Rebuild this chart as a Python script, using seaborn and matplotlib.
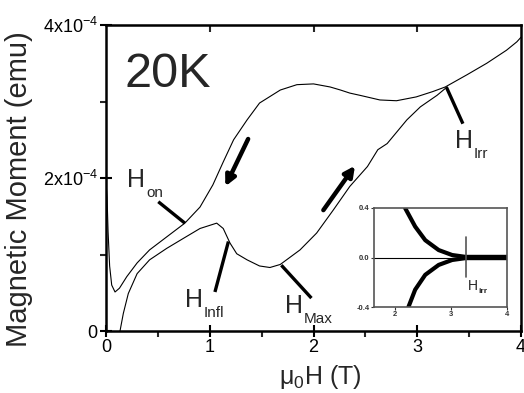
import numpy as np
import pandas as pd
import matplotlib
matplotlib.use("Agg")
import matplotlib.pyplot as plt
import seaborn as sns

# ---------------- data (field in T, moment in 1e-4 emu) ----------------
field_down = [4.00, 3.96, 3.86, 3.67, 3.48, 3.27, 3.15, 2.99, 2.80, 2.64, 2.45,
              2.35, 2.26, 2.16, 2.00, 1.84, 1.68, 1.48, 1.36, 1.23, 1.13, 1.03,
              0.906, 0.76, 0.585, 0.42, 0.30, 0.20, 0.13, 0.087, 0.055, 0.035,
              0.02, 0.01, 0.0]
moment_down = [3.84, 3.78, 3.67, 3.50, 3.35, 3.19, 3.13, 3.06, 3.01, 3.02, 3.08,
               3.11, 3.15, 3.19, 3.23, 3.22, 3.15, 2.98, 2.76, 2.50, 2.21, 1.91,
               1.62, 1.41, 1.23, 1.06, 0.89, 0.71, 0.56, 0.51, 0.60, 0.85,
               1.30, 1.75, 1.95]

field_up = [0.135, 0.167, 0.215, 0.30, 0.42, 0.585, 0.745, 0.906, 1.067, 1.13,
            1.195, 1.26, 1.36, 1.48, 1.58, 1.68, 1.87, 2.03, 2.19, 2.35, 2.52,
            2.62, 2.71, 2.90, 3.03, 3.19, 3.27]
moment_up = [0.0, 0.23, 0.49, 0.75, 0.93, 1.08, 1.21, 1.34, 1.41, 1.34,
             1.15, 1.01, 0.93, 0.85, 0.83, 0.87, 1.06, 1.28, 1.58, 1.89, 2.15,
             2.37, 2.45, 2.76, 2.93, 3.08, 3.17]

inset_x_upper = [2.18, 2.36, 2.54, 2.78, 3.02, 3.26, 3.60, 4.00]
inset_y_upper = [0.40, 0.25, 0.14, 0.06, 0.02, 0.005, 0.005, 0.005]
inset_x_lower = [2.24, 2.36, 2.54, 2.78, 3.02, 3.26, 3.60, 4.00]
inset_y_lower = [-0.40, -0.26, -0.14, -0.06, -0.02, -0.005, -0.005, -0.005]

y_ticks_e4 = [0, 2, 4]
y_tick_labels = ['0', r'2x10$^{\mathregular{-4}}$', r'4x10$^{\mathregular{-4}}$']
x_ticks = [0, 1, 2, 3, 4]

# ---------------- style ----------------
sns.set_style("ticks")
plt.rcParams['font.family'] = ['Liberation Sans', 'DejaVu Sans']
plt.rcParams['mathtext.fontset'] = 'custom'
plt.rcParams['mathtext.rm'] = 'Liberation Sans'
plt.rcParams['mathtext.it'] = 'Liberation Sans:italic'
plt.rcParams['mathtext.bf'] = 'Liberation Sans:bold'

fig = plt.figure(figsize=(5.24, 3.93), dpi=100)
ax = fig.add_axes([106/524, 62/393, 415/524, 306/393])

df_down = pd.DataFrame({'H': field_down, 'M': np.array(moment_down) * 1e-4})
df_up = pd.DataFrame({'H': field_up, 'M': np.array(moment_up) * 1e-4})
sns.lineplot(data=df_down, x='H', y='M', sort=False, estimator=None,
             color='black', lw=0.8, ax=ax)
sns.lineplot(data=df_up, x='H', y='M', sort=False, estimator=None,
             color='black', lw=0.8, ax=ax)

ax.set_xlim(0, 4)
ax.set_ylim(0, 4e-4)
ax.set_xticks(x_ticks)
ax.set_xticks([0.5, 1.5, 2.5, 3.5], minor=True)
ax.set_yticks([v * 1e-4 for v in y_ticks_e4])
ax.set_yticks([1e-4, 3e-4], minor=True)
ax.set_yticklabels(y_tick_labels)
ax.tick_params(axis='both', which='major', direction='inout', length=8, width=1.5,
               labelsize=13, colors='black')
ax.tick_params(axis='both', which='minor', direction='out', length=4, width=1.5)
ax.tick_params(axis='x', pad=2)
ax.tick_params(axis='y', pad=2)
for s in ax.spines.values():
    s.set_linewidth(1.8)
    s.set_color('black')
ax.set_xlabel('μ$_{\\mathregular{0}}$H (T)', fontsize=18)
ax.set_ylabel('Magnetic Moment (emu)', fontsize=21)
ax.xaxis.set_label_coords(0.516, -0.105)
ax.yaxis.set_label_coords(-0.176, 0.464)

# top ticks inward
secx = ax.secondary_xaxis('top')
secx.set_xticks([1, 2, 3])
secx.set_xticklabels([])
secx.tick_params(direction='in', length=5, width=1.5)

ax.text(0.18, 3.19e-4, '20K', fontsize=35, ha='left', va='baseline')

# arrows along branches
arrow_kw = dict(arrowstyle='-|>,head_length=0.6,head_width=0.3', lw=3.2,
                color='black', shrinkA=0, shrinkB=0, mutation_scale=10)
ax.annotate('', xy=(1.15, 1.89e-4), xytext=(1.37, 2.51e-4), arrowprops=arrow_kw)
ax.annotate('', xy=(2.40, 2.16e-4), xytext=(2.095, 1.58e-4), arrowprops=arrow_kw)

# labelled points
line_kw = dict(color='black', lw=2.4, solid_capstyle='butt')
ax.plot([0.504, 0.76], [1.69e-4, 1.41e-4], **line_kw)
ax.plot([1.05, 1.18], [0.51e-4, 1.17e-4], **line_kw)
ax.plot([1.98, 1.69], [0.43e-4, 0.86e-4], **line_kw)
ax.plot([3.44, 3.28], [2.71e-4, 3.19e-4], **line_kw)

def hlabel(x, y, sub, sx, sy):
    ax.text(x, y, 'H', fontsize=18, ha='left', va='baseline')
    ax.text(sx, sy, sub, fontsize=11, ha='left', va='baseline')

hlabel(0.20, 1.88e-4, 'on', 0.385, 1.75e-4)
hlabel(0.76, 0.31e-4, 'Infl', 0.945, 0.18e-4)
hlabel(1.725, 0.235e-4, 'Max', 1.91, 0.105e-4)
hlabel(3.36, 2.39e-4, 'Irr', 3.545, 2.26e-4)

# ---------------- inset ----------------
axi = fig.add_axes([374/524, 86/393, 133/524, 99/393])
sns.lineplot(x=inset_x_upper, y=inset_y_upper, sort=False, estimator=None,
             color='black', lw=3, ax=axi)
sns.lineplot(x=inset_x_lower, y=inset_y_lower, sort=False, estimator=None,
             color='black', lw=3, ax=axi)
axi.axhline(0, color='black', lw=0.8)
axi.plot([3.27, 3.27], [-0.157, 0.166], color='#555555', lw=1.2)
axi.set_xlim(1.625, 4)
axi.set_ylim(-0.4, 0.4)
axi.set_xticks([2, 3, 4])
axi.set_yticks([-0.4, 0.0, 0.4])
axi.set_yticklabels(['-0.4', '0.0', '0.4'])
axi.tick_params(labelsize=5.5, length=2, width=0.8, pad=1, direction='out',
                colors='#333333')
for lab in axi.get_xticklabels() + axi.get_yticklabels():
    lab.set_fontweight('bold')
for s in axi.spines.values():
    s.set_linewidth(1.2)
    s.set_color('#555555')
axi.set_facecolor('white')
axi.text(3.30, -0.265, 'H', fontsize=10, ha='left', va='baseline')
axi.text(3.49, -0.285, 'irr', fontsize=6, fontweight='bold', ha='left', va='baseline')

fig.savefig('out.png', dpi=100)
